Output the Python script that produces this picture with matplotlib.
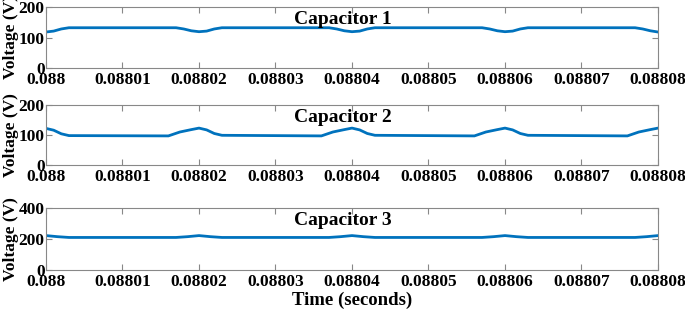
import matplotlib.pyplot as plt

plt.rcParams['font.family'] = ['Liberation Serif']
plt.rcParams['font.weight'] = 'bold'

# time offsets in units of 1e-5 s after 0.088
t_c1 = [0, 0.1, 0.2, 0.3, 1.7, 1.8, 1.9, 2.0, 2.1, 2.2, 2.3, 3.7, 3.8, 3.9, 4.0, 4.1, 4.2, 4.3,
        5.7, 5.8, 5.9, 6.0, 6.1, 6.2, 6.3, 7.7, 7.8, 7.9, 8.0]
v_c1 = [118, 121, 128, 132, 132, 128, 122, 119, 121, 128, 132, 132, 128, 122, 119, 121, 128, 132,
        132, 128, 122, 119, 121, 128, 132, 132, 128, 122, 118]

t_c2 = [0, 0.1, 0.2, 0.3, 1.6, 1.75, 1.9, 2.0, 2.1, 2.2, 2.3, 3.6, 3.75, 3.9, 4.0, 4.1, 4.2, 4.3,
        5.6, 5.75, 5.9, 6.0, 6.1, 6.2, 6.3, 7.6, 7.75, 7.9, 8.0]
v_c2 = [122, 116, 104, 98, 97, 110, 118, 123, 117, 105, 99, 97, 110, 118, 123, 117, 105, 99,
        97, 110, 118, 123, 117, 105, 99, 97, 110, 118, 123]

t_c3 = [0, 0.15, 0.3, 1.7, 1.85, 2.0, 2.15, 2.3, 3.7, 3.85, 4.0, 4.15, 4.3,
        5.7, 5.85, 6.0, 6.15, 6.3, 7.7, 7.85, 8.0]
v_c3 = [222, 215, 210, 210, 215, 222, 215, 210, 210, 215, 222, 215, 210,
        210, 215, 222, 215, 210, 210, 215, 222]

titles = ['Capacitor 1', 'Capacitor 2', 'Capacitor 3']
yticks = [[0, 100, 200], [0, 100, 200], [0, 200, 400]]
xtick_vals = [0.088 + i * 1e-5 for i in range(9)]
xtick_labels = ['0.088', '0.08801', '0.08802', '0.08803', '0.08804',
                '0.08805', '0.08806', '0.08807', '0.08808']

fig = plt.figure(figsize=(6.85, 3.15), dpi=100)
tops = [7, 105, 208]
bots = [68, 165, 270]
series = [(t_c1, v_c1), (t_c2, v_c2), (t_c3, v_c3)]

for k in range(3):
    y0 = 1 - bots[k] / 315
    h = (bots[k] - tops[k]) / 315
    ax = fig.add_axes([46 / 685, y0, (658 - 46) / 685, h])
    t, v = series[k]
    ax.plot([0.088 + x * 1e-5 for x in t], v, color='#0072BD', lw=2)
    ax.set_xlim(0.088, 0.08808)
    ax.set_ylim(yticks[k][0], yticks[k][-1])
    ax.set_yticks(yticks[k])
    ax.set_xticks(xtick_vals)
    ax.set_xticklabels(xtick_labels)
    ax.tick_params(direction='in', top=True, right=True, labelsize=12.5,
                   color='#888888', length=4, pad=3)
    ax.tick_params(axis='y', pad=1)
    for s in ax.spines.values():
        s.set_color('#888888')
        s.set_linewidth(0.8)
    ax.text(0.485, 0.93, titles[k], transform=ax.transAxes, ha='center', va='top',
            fontsize=14, fontweight='bold')
    ax.set_ylabel('Voltage (V)', fontsize=12.5, fontweight='bold', labelpad=0)
    if k == 2:
        ax.set_xlabel('Time (seconds)', fontsize=13.5, fontweight='bold', labelpad=1)

fig.savefig('out.png', dpi=100)
